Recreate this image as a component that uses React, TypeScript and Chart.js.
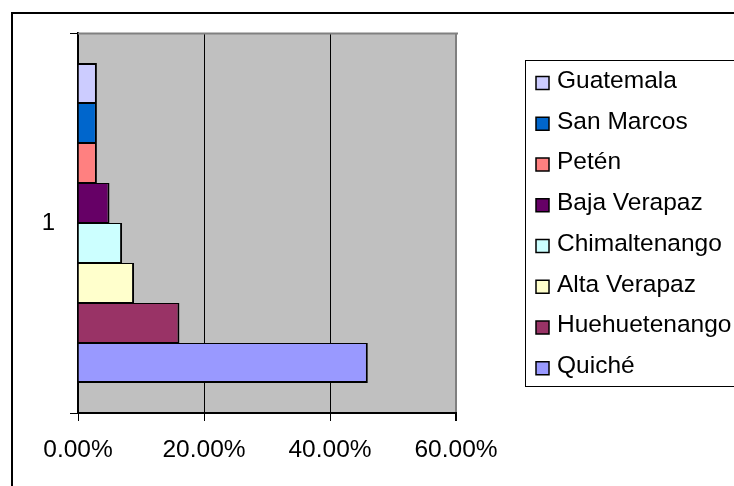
import { useEffect, useRef } from 'react';
import { Chart, registerables } from 'chart.js';

Chart.register(...registerables);

const categories = ['1'];
const seriesNames = [
  'Guatemala',
  'San Marcos',
  'Petén',
  'Baja Verapaz',
  'Chimaltenango',
  'Alta Verapaz',
  'Huehuetenango',
  'Quiché',
];
const seriesValues = [0.03, 0.03, 0.03, 0.05, 0.07, 0.089, 0.161, 0.46];
const seriesColors = ['#CCCCFF', '#0066CC', '#FF8080', '#660066', '#CCFFFF', '#FFFFCC', '#993366', '#9999FF'];
const xTicks = [0, 0.2, 0.4, 0.6];

const FONT = "'Liberation Sans', Arial, sans-serif";

const decor = {
  id: 'decor',
  beforeDraw(chart: any) {
    const { ctx, chartArea: a } = chart;
    ctx.save();
    ctx.fillStyle = '#ffffff';
    ctx.fillRect(0, 0, chart.width, chart.height);
    ctx.fillStyle = '#C0C0C0';
    ctx.fillRect(a.left, a.top, a.right - a.left, a.bottom - a.top);
    ctx.strokeStyle = '#000';
    ctx.lineWidth = 2;
    ctx.beginPath();
    ctx.moveTo(12, chart.height + 10);
    ctx.lineTo(12, 13);
    ctx.lineTo(chart.width + 10, 13);
    ctx.stroke();
    ctx.restore();
  },
  afterDraw(chart: any) {
    const { ctx, chartArea: a } = chart;
    ctx.save();
    // plot area top border
    ctx.strokeStyle = '#808080';
    ctx.lineWidth = 2;
    ctx.beginPath();
    ctx.moveTo(a.left, a.top + 0.5);
    ctx.lineTo(a.right + 2, a.top + 0.5);
    ctx.stroke();
    // legend
    const lx = 525.5;
    const ly = 60.5;
    const lb = 386.5;
    ctx.strokeStyle = '#000';
    ctx.lineWidth = 1;
    ctx.strokeRect(lx, ly, chart.width + 20 - lx, lb - ly);
    ctx.font = `24.5px ${FONT}`;
    ctx.textBaseline = 'middle';
    ctx.textAlign = 'left';
    chart.data.datasets.forEach((ds: any, i: number) => {
      const cy = 81 + i * 40.75;
      ctx.fillStyle = ds.backgroundColor;
      ctx.fillRect(536, cy - 4.5, 13, 13);
      ctx.strokeStyle = '#000';
      ctx.lineWidth = 1.5;
      ctx.strokeRect(536, cy - 4.5, 13, 13);
      ctx.fillStyle = '#000';
      ctx.fillText(ds.label, 557, cy);
    });
    ctx.restore();
  },
};

export default function App() {
  const ref = useRef<HTMLCanvasElement | null>(null);
  useEffect(() => {
    if (!ref.current) return;
    const n = seriesNames.length;
    const chart = new Chart(ref.current, {
      type: 'bar',
      data: {
        labels: categories,
        datasets: seriesNames.map((name, i) => ({
          label: name,
          data: [seriesValues[i]],
          backgroundColor: seriesColors[i],
          borderColor: '#000',
          borderWidth: { top: i === 0 ? 2 : 1, bottom: i === n - 1 ? 2 : 1, right: 2, left: 0 },
          borderSkipped: 'start',
          categoryPercentage: 0.8421,
          barPercentage: 1,
        })),
      },
      options: {
        indexAxis: 'y',
        animation: false,
        responsive: false,
        devicePixelRatio: 1,
        layout: { padding: { top: 33, right: 278, left: 0, bottom: 0 } },
        plugins: { legend: { display: false }, tooltip: { enabled: false } },
        scales: {
          x: {
            min: 0,
            max: 0.6,
            afterBuildTicks: (scale: any) => {
              scale.ticks = xTicks.map((v) => ({ value: v }));
            },
            afterFit: (scale: any) => {
              scale.height = 73;
            },
            ticks: {
              color: '#000',
              font: { family: FONT, size: 24.5 },
              padding: 15,
              maxRotation: 0,
              autoSkip: false,
              callback: (v: any) => (Number(v) * 100).toFixed(2) + '%',
            },
            grid: {
              color: (c: any) => (c.index === xTicks.length - 1 ? '#808080' : '#000'),
              lineWidth: (c: any) => (c.index === xTicks.length - 1 ? 2 : 1),
              tickColor: '#000',
              tickLength: 8,
            },
            border: { color: '#000', width: 2 },
          },
          y: {
            afterFit: (scale: any) => {
              scale.width = 78;
            },
            ticks: {
              color: '#000',
              font: { family: FONT, size: 24 },
              padding: 15,
            },
            grid: {
              drawOnChartArea: false,
              color: '#000',
              tickLength: 8,
              offset: true,
            },
            border: { color: '#000', width: 2 },
          },
        },
      },
      plugins: [decor],
    });
    return () => chart.destroy();
  }, []);
  return (
    <canvas
      ref={ref}
      width={734}
      height={486}
      style={{ position: 'absolute', left: 0, top: 0, width: 734, height: 486, display: 'block' }}
    />
  );
}
